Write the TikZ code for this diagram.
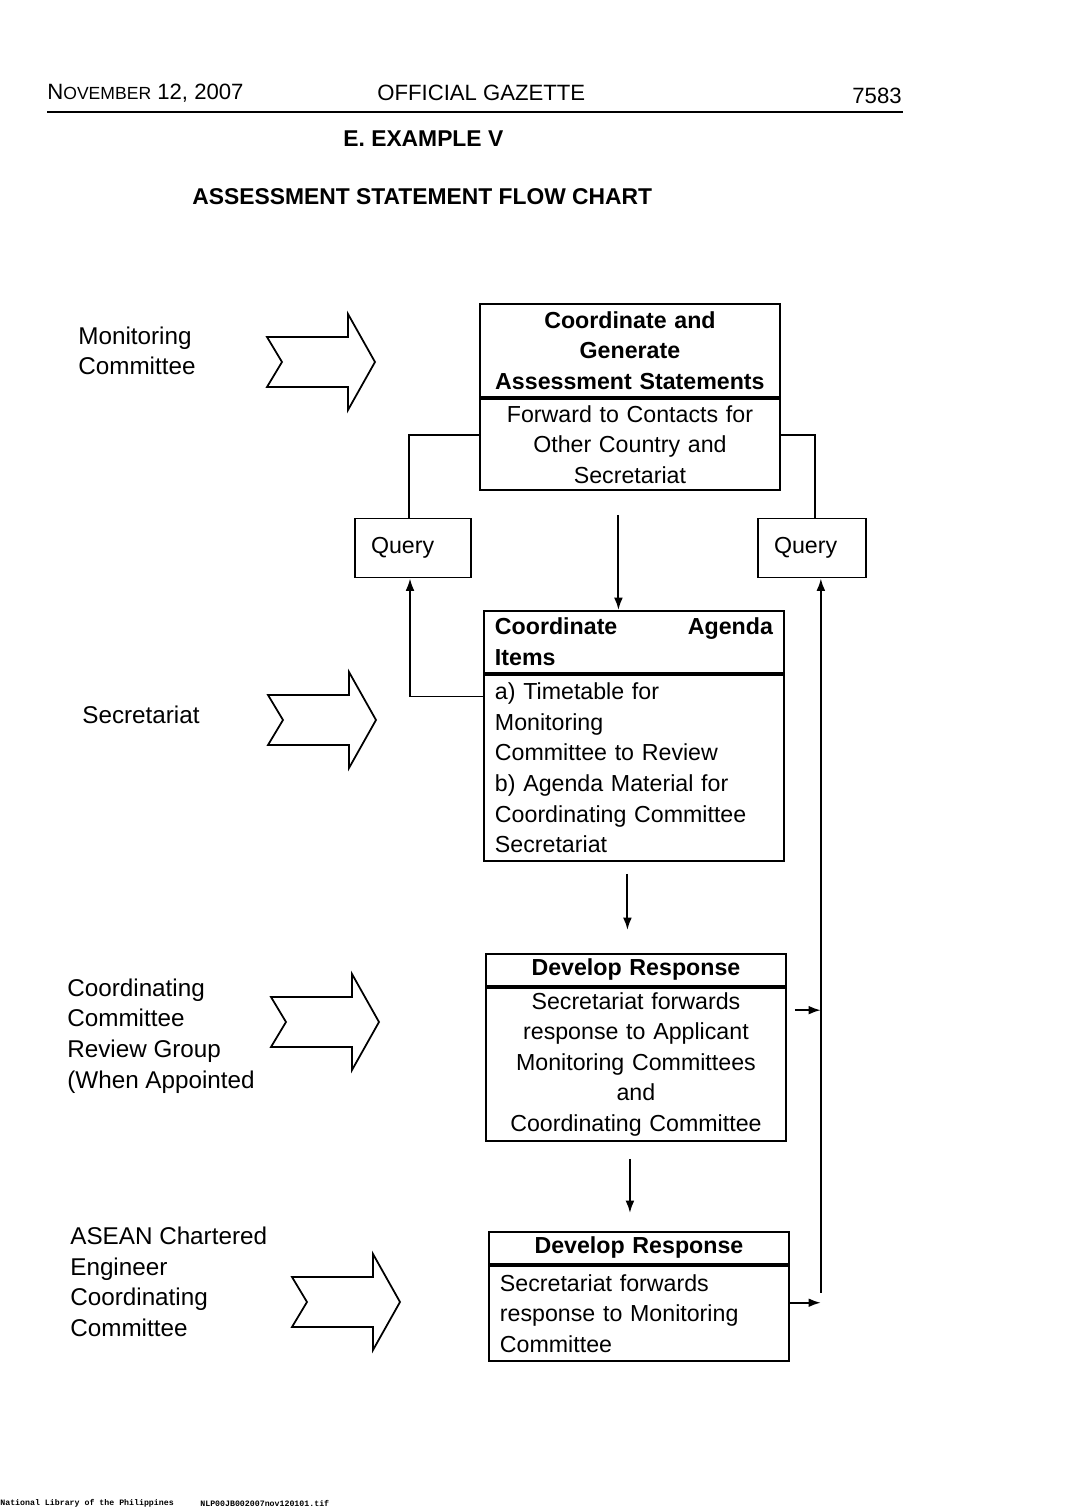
\documentclass[tikz,border=0pt]{standalone}
\usepackage{fontspec}
\setmainfont{Liberation Sans}
\setmonofont{Liberation Mono}
\usetikzlibrary{arrows.meta, positioning, calc}

\newcommand\smcp[1]{{\fontsize{10}{12}\selectfont #1}}

\begin{document}
\begin{tikzpicture}[
  x=0.02cm, y=-0.02cm,
  font=\fontsize{13.2}{17.4}\selectfont,
  % ---- box styles (title part + body part) ----
  part/.style={draw, line width=1.1pt, rectangle, inner xsep=0.22cm,
    inner ysep=0pt, text width=5.56cm},
  ttl/.style ={part, align=center, font=\fontsize{13.2}{17.4}\selectfont\bfseries},
  body/.style={part},
  query/.style={draw, line width=1.1pt, inner xsep=0.32cm, inner ysep=0pt,
    text width=1.68cm, minimum height=1.18cm, align=left},
  side/.style={anchor=west, inner sep=0pt, align=left,
    font=\fontsize{13.8}{17.4}\selectfont},
  hdr/.style ={inner sep=0pt, font=\fontsize{12.6}{15}\selectfont},
  % ---- connector styles ----
  link/.style={line width=1.1pt},
  flow/.style={line width=1.1pt, -{Latex[length=7pt, width=5pt]}},
  % ---- hollow notched arrow ----
  chevron/.pic={\draw[line width=1pt] (0,-25) -- (15,0) -- (0,25) -- (81,25)
    -- (81,48) -- (108,0) -- (81,-48) -- (81,-25) -- cycle;},
]
\useasboundingbox (0,0) rectangle (1069,1508);

% ---- page header ----
\node[hdr, anchor=west] (date) at (47,93) {N\smcp{OVEMBER} 12, 2007};
\node[hdr, anchor=west] (paper) at (377,93) {OFFICIAL GAZETTE};
\node[hdr, anchor=east] (page) at (902,96) {7583};
\draw[line width=1.2pt] (47,112) -- (903,112);
\node[hdr, anchor=west, font=\fontsize{13}{15}\selectfont\bfseries] (example) at (343,139) {E. EXAMPLE V};
\node[hdr, anchor=west, font=\fontsize{13}{15}\selectfont\bfseries] (title) at (192,197) {ASSESSMENT STATEMENT FLOW CHART};

% ---- parties on the left ----
\node[side] (mc)   at (78,351)   {Monitoring\\Committee};
\node[side] (sec)  at (82,715)   {Secretariat};
\node[side] (ccrg) at (67,1036)  {Coordinating\\Committee\\Review Group\\(When Appointed};
\node[side] (acec) at (70,1282)  {ASEAN Chartered\\Engineer\\Coordinating\\Committee};

\pic at (267,362)  {chevron};
\pic at (268,720)  {chevron};
\pic at (271,1022) {chevron};
\pic at (292,1302) {chevron};

% ---- process boxes ----
\node[ttl, anchor=north west, minimum height=1.86cm] (t1) at (479,303)
  {Coordinate and\\Generate\\Assessment Statements};
\node[body, align=center, minimum height=1.82cm] (b1) [below=0pt of t1]
  {Forward to Contacts for\\Other Country and\\Secretariat};

\node[ttl, align=left, anchor=north west, minimum height=1.24cm] (t2) at (483,610)
  {Coordinate\hfill Agenda\\Items};
\node[body, align=left, minimum height=3.72cm] (b2) [below=0pt of t2]
  {a) Timetable for\\Monitoring\\Committee to Review\\b) Agenda Material for\\Coordinating Committee\\Secretariat};

\node[ttl, anchor=north west, minimum height=0.64cm] (t3) at (485,953) {Develop Response};
\node[body, align=center, minimum height=3.06cm] (b3) [below=0pt of t3]
  {Secretariat forwards\\response to Applicant\\Monitoring Committees\\and\\Coordinating Committee};

\node[ttl, anchor=north west, minimum height=0.64cm] (t4) at (488,1231) {Develop Response};
\node[body, align=left, minimum height=1.9cm] (b4) [below=0pt of t4]
  {Secretariat forwards\\response to Monitoring\\Committee};

% ---- queries ----
\node[query] (q1) at (413,548) {Query};
\node[query, text width=1.52cm] (q2) at (812,548) {Query};

% ---- connectors ----
\draw[link] ($(b1.north west)!0.4!(b1.south west)$) -| ([xshift=-0.08cm]q1.north);
\draw[link] ($(b1.north east)!0.4!(b1.south east)$) -| ([xshift=0.06cm]q2.north);
\draw[flow, shorten <=0.48cm] ([xshift=-0.23cm]b1.south) -- ([xshift=-0.23cm]b1.south |- t2.north);
\draw[flow] ($(b2.north west)!0.12!(b2.south west)$) -| ([xshift=-0.06cm]q1.south);
\draw[flow, shorten <=0.24cm, shorten >=0.46cm] ([xshift=-0.13cm]b2.south) -- ([xshift=-0.13cm]b2.south |- t3.north);
\draw[flow, shorten <=0.34cm, shorten >=0.36cm] ([xshift=-0.12cm]b3.south) -- ([xshift=-0.12cm]b3.south |- t4.north);

\coordinate (jn) at ($(b4.north east)!0.39!(b4.south east)+(31,0)$);
\draw[flow] ($(b4.north east)!0.39!(b4.south east)$) -- (jn);
\draw[flow, shorten <=0.2cm] (jn) -- (jn |- q2.south);
\draw[flow, shorten <=0.16cm] ($(b3.north east)!0.15!(b3.south east)$) -- (jn |- {$(b3.north east)!0.15!(b3.south east)$});

% ---- scan footer ----
\node[inner sep=0pt, anchor=west, font=\fontsize{4.7}{5}\ttfamily\bfseries] (lib) at (0,1503) {National Library of the Philippines};
\node[inner sep=0pt, anchor=west, font=\fontsize{4.7}{5}\ttfamily\bfseries] (file) at (200,1503) {NLP00JB002007nov120101.tif};
\end{tikzpicture}
\end{document}
